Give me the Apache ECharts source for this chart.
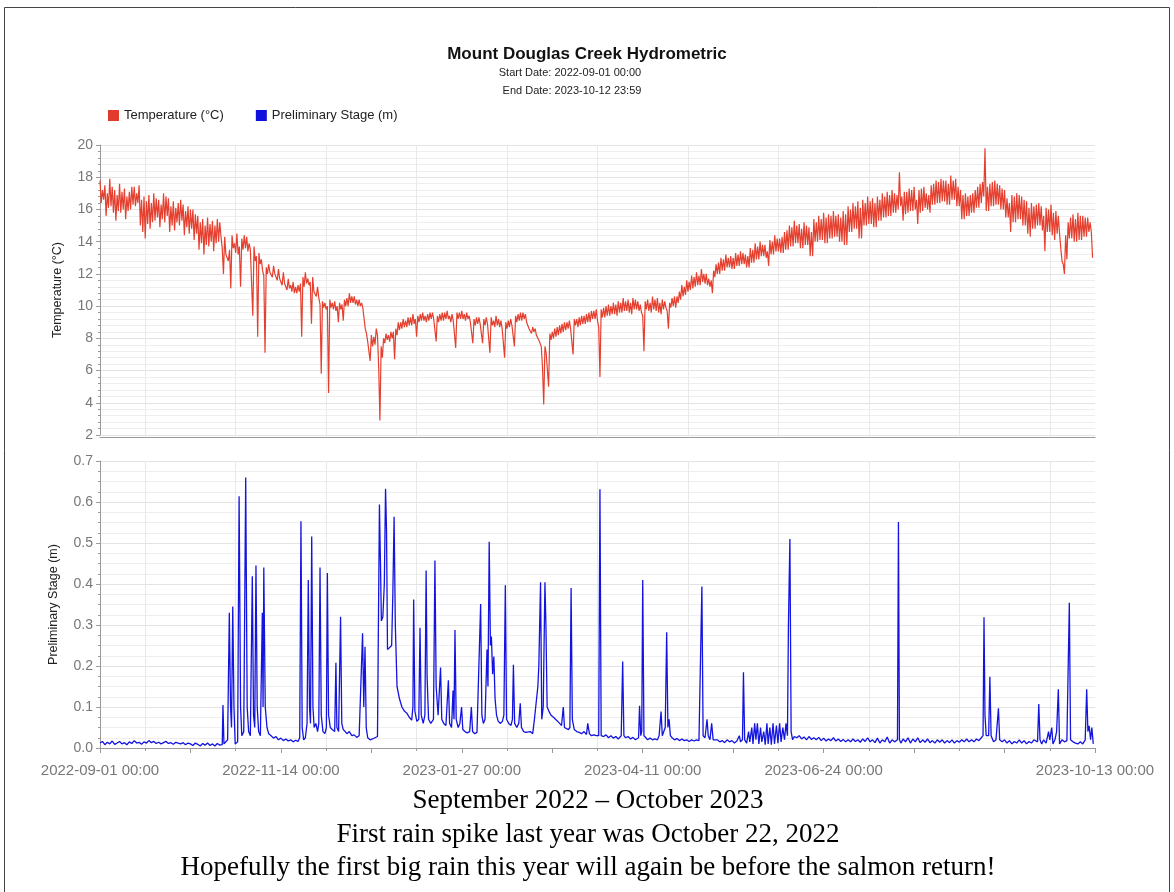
<!DOCTYPE html>
<html>
<head>
<meta charset="utf-8">
<script src="https://cdn.jsdelivr.net/npm/echarts@6/dist/echarts.min.js"></script>
<style>
  html, body { margin: 0; padding: 0; background: #fff; }
  #chart { width: 1174px; height: 892px; }
</style>
</head>
<body>
<div id="chart"></div>
<script>
// days counted from 2022-09-01 00:00
var startDate = Date.UTC(2022, 8, 1);
var labelDays = [0, 74, 148, 222, 296, 407];

// temperature (°C), two readings a day (every 12 h)
var tempC = [
  17.8,16.4, 17.2,16.6, 17.5,15.6, 17.0,16.1, 17.9,16.2, 17.4,15.8, 17.2,15.3, 16.9,15.9, 17.6,15.8, 17.1,16.0,
  17.3,15.4, 16.8,15.9, 17.1,16.0, 17.4,16.3, 17.4,16.2, 17.0,16.4, 17.5,15.0, 16.6,14.6, 16.8,14.2, 16.5,15.1,
  16.9,14.8, 16.4,15.2, 17.0,15.3, 16.7,15.5, 16.6,14.9, 16.3,15.4, 17.0,15.2, 16.8,15.6, 16.7,14.6, 16.2,15.0,
  16.5,14.7, 16.1,15.2, 16.4,15.0, 16.6,15.3, 16.3,14.4, 15.9,14.9, 16.2,14.5, 16.0,14.8, 16.0,14.1, 15.7,14.5,
  15.6,13.5, 15.2,13.9, 15.4,13.2, 15.0,13.8, 15.5,13.7, 15.1,14.0, 15.3,13.4, 15.0,13.9, 15.4,14.0, 15.2,14.3,
  13.6,12.0, 14.3,13.2, 13.3,12.8, 13.5,11.1, 14.4,13.6, 13.9,13.3, 14.5,13.2, 13.7,11.2, 14.2,13.5, 14.4,13.6,
  14.3,13.4, 13.9,13.5, 13.5,9.4, 13.7,12.8, 13.1,8.1, 13.3,12.6, 12.9,12.2, 11.9,7.1, 12.4,12.0, 12.6,12.1,
  12.2,11.8, 12.5,12.0, 11.9,11.6, 12.3,11.7, 11.8,11.3, 12.1,11.4, 11.4,11.0, 11.7,11.1, 11.3,10.9, 11.5,10.8,
  11.2,10.8, 11.3,10.9, 11.4,8.1, 11.8,11.2, 12.1,11.4, 11.7,11.3, 11.5,8.9, 11.8,10.9, 11.0,10.6, 11.2,10.5,
  10.1,5.8, 10.3,9.9, 10.2,9.8, 10.0,4.6, 10.4,9.9, 10.2,9.8, 10.3,9.7, 10.0,9.0, 10.2,9.8, 10.1,9.1,
  10.4,10.0, 10.5,10.0, 10.8,10.2, 10.6,10.2, 10.6,10.1, 10.4,10.0, 10.4,10.0, 10.2,9.9, 9.8,8.6, 8.3,7.8,
  7.8,6.6, 8.2,7.5, 8.1,7.6, 8.6,8.2, 6.2,2.9, 7.5,6.8, 8.0,7.7, 8.3,7.9, 8.2,7.8, 8.4,8.0,
  8.4,6.7, 8.6,8.2, 9.0,8.5, 9.0,8.6, 9.2,8.7, 9.1,8.7, 9.3,8.8, 9.3,8.8, 9.5,8.9, 9.2,8.1,
  9.4,9.0, 9.5,9.1, 9.6,9.1, 9.4,9.0, 9.5,9.1, 9.6,9.2, 9.6,9.2, 9.3,7.8, 9.4,9.0, 9.5,9.1,
  9.6,9.1, 9.6,9.2, 9.7,9.2, 9.4,9.0, 9.5,9.1, 9.1,7.4, 9.6,9.2, 9.6,9.2, 9.7,9.2, 9.5,9.1,
  9.6,9.2, 9.4,9.0, 9.0,7.7, 9.2,8.8, 9.3,8.9, 9.3,8.9, 8.9,7.7, 9.2,8.8, 9.3,8.9, 8.8,7.1,
  9.3,8.8, 9.1,8.7, 9.4,8.8, 9.2,8.7, 9.1,8.6, 8.6,6.8, 9.0,8.6, 9.1,8.7, 9.2,8.8, 8.9,7.5,
  9.4,9.0, 9.5,9.1, 9.6,9.1, 9.6,9.2, 9.5,9.0, 8.9,8.6, 8.7,8.3, 8.7,8.4, 8.6,8.2, 8.2,7.9,
  7.9,7.5, 6.2,3.9, 7.5,7.1, 7.0,5.0, 8.3,7.9, 8.4,8.0, 8.6,8.1, 8.7,8.2, 8.8,8.3, 8.9,8.4,
  9.0,8.5, 9.0,8.6, 9.1,8.6, 8.6,7.0, 9.2,8.8, 9.2,8.7, 9.3,8.8, 9.4,8.9, 9.4,8.9, 9.5,9.0,
  9.6,9.0, 9.7,9.2, 9.7,9.2, 9.8,9.1, 8.7,5.6, 9.8,9.3, 9.9,9.3, 10.0,9.4, 10.1,9.4, 10.0,9.5,
  10.2,9.5, 10.1,9.4, 10.3,9.6, 10.2,9.6, 10.5,9.7, 10.3,9.7, 10.4,9.6, 10.2,9.5, 10.5,9.8, 10.4,9.8,
  10.3,9.7, 10.1,9.6, 9.4,7.2, 10.3,9.8, 10.4,9.7, 10.2,9.6, 10.6,9.8, 10.4,9.7, 10.5,9.6, 10.2,9.5,
  10.4,9.8, 10.3,9.9, 9.7,8.6, 10.2,9.9, 10.5,10.0, 10.6,9.9, 10.6,10.2, 10.9,10.4, 11.3,10.6, 11.2,10.7,
  11.6,10.9, 11.5,11.0, 11.9,11.1, 11.8,11.2, 12.1,11.3, 11.9,11.3, 12.3,11.5, 12.0,11.4, 12.0,11.3, 11.7,11.2,
  11.6,10.8, 12.2,11.8, 12.6,12.0, 12.7,12.0, 13.0,12.2, 12.9,12.2, 13.2,12.4, 13.0,12.4, 13.1,12.3, 13.0,12.3,
  13.3,12.5, 13.2,12.5, 13.4,12.6, 13.3,12.6, 13.2,12.4, 13.1,12.4, 13.6,12.7, 13.5,12.7, 13.9,12.9, 13.7,12.9,
  14.0,13.1, 13.8,13.1, 13.8,13.0, 13.4,12.5, 14.1,13.2, 14.0,13.2, 14.4,13.4, 14.2,13.4, 14.2,13.3, 14.3,13.3,
  14.6,13.5, 14.7,13.5, 15.0,13.7, 14.9,13.7, 15.3,13.9, 15.0,13.9, 15.1,13.6, 14.8,13.6, 15.2,13.8, 15.0,13.8,
  14.9,13.1, 14.6,13.1, 15.4,14.0, 15.2,14.0, 15.6,14.1, 15.4,14.1, 15.8,13.9, 15.5,13.9, 15.7,14.2, 15.6,14.2,
  15.9,14.3, 15.6,14.3, 15.7,14.0, 15.5,14.0, 15.9,13.8, 15.7,13.8, 16.2,14.6, 16.0,14.6, 16.4,14.8, 16.2,14.8,
  16.5,14.2, 16.1,14.2, 16.6,15.0, 16.4,15.0, 16.8,15.1, 16.5,15.1, 16.7,14.9, 16.4,14.9, 16.8,15.3, 16.6,15.3,
  17.0,15.5, 16.8,15.5, 17.1,15.6, 16.9,15.6, 17.2,15.8, 17.0,15.8, 16.9,16.0, 18.3,16.2, 16.8,15.3, 17.1,15.7,
  17.1,15.8, 17.3,15.9, 17.2,15.9, 17.4,16.0, 16.6,15.1, 17.2,15.8, 17.3,15.9, 17.4,16.1, 17.0,16.0, 16.9,15.8,
  17.5,16.3, 17.6,16.3, 17.8,16.4, 17.7,16.4, 17.9,16.5, 17.8,16.5, 17.8,16.3, 17.6,16.3, 18.1,16.6, 17.8,16.6,
  17.9,16.2, 17.4,16.2, 17.2,15.4, 16.9,15.4, 17.0,15.6, 16.8,15.6, 16.9,15.8, 17.0,15.8, 17.2,16.1, 17.4,16.1,
  17.6,16.4, 17.7,16.8, 19.8,15.9, 17.4,15.9, 17.6,16.2, 17.7,16.2, 17.8,16.3, 17.6,16.3, 17.5,16.0, 17.3,16.0,
  17.2,15.5, 16.7,15.5, 16.4,14.6, 16.9,15.2, 16.8,15.2, 17.0,15.4, 16.9,15.4, 16.8,15.0, 16.6,15.0, 16.5,14.5,
  16.1,14.3, 16.4,14.8, 16.2,14.8, 16.3,15.0, 16.4,15.0, 16.2,14.7, 15.6,13.4, 16.1,14.6, 16.0,14.6, 16.3,14.4,
  15.8,14.1, 15.9,14.5, 15.6,14.5, 13.6,12.8, 12.6,12.0, 14.4,12.9, 15.2,14.2, 15.5,14.2, 15.7,14.0, 15.4,14.0,
  15.8,14.1, 15.6,14.1, 15.6,14.3, 15.5,14.3, 15.5,14.6, 15.2,14.6, 13.0
];

// preliminary stage (m) as [day, metres]
var stagePts = [
  [0,0.012],[1,0.016],[2,0.008],[3,0.014],[4,0.010],[5,0.017],[6,0.009],[7,0.012],[8,0.016],[9,0.010],
  [10,0.013],[11,0.008],[12,0.015],[13,0.011],[14,0.018],[15,0.012],[16,0.014],[17,0.009],[18,0.015],[19,0.012],
  [20,0.018],[21,0.013],[22,0.016],[23,0.011],[24,0.014],[25,0.010],[26,0.013],[27,0.016],[28,0.011],[29,0.013],
  [30,0.009],[31,0.014],[32,0.012],[33,0.010],[34,0.013],[35,0.008],[36,0.012],[37,0.010],[38,0.006],[39,0.012],
  [40,0.009],[41,0.005],[42,0.011],[43,0.007],[44,0.012],[45,0.006],[46,0.010],[47,0.005],[48,0.011],[49,0.007],
  [50,0.008],[50.3,0.105],[50.7,0.01],[51.5,0.008],[52.2,0.02],[52.9,0.33],[53.4,0.1],[53.8,0.05],[54.3,0.345],[54.8,0.1],
  [55.3,0.01],[56.3,0.015],[56.9,0.614],[57.5,0.1],[58.0,0.03],[58.8,0.04],[59.6,0.66],[60.2,0.1],[60.8,0.04],[61.5,0.03],
  [62.3,0.419],[62.8,0.08],[63.3,0.05],[63.8,0.445],[64.3,0.1],[64.9,0.04],[65.6,0.03],[66.4,0.33],[66.7,0.1],[67.0,0.44],
  [67.6,0.1],[68.3,0.05],[69,0.035],[70,0.03],[71,0.024],[72,0.028],[73,0.02],[74,0.024],[75,0.018],[76,0.022],
  [77,0.017],[78,0.02],[79,0.015],[80,0.019],[81,0.016],[81.7,0.025],[82.2,0.553],[82.7,0.05],[83.3,0.02],[84,0.025],
  [84.7,0.06],[85.2,0.41],[85.7,0.1],[86.1,0.06],[86.6,0.516],[87.1,0.1],[87.6,0.05],[88.3,0.06],[89.0,0.04],[89.5,0.06],
  [90.0,0.44],[90.5,0.08],[91.2,0.04],[92.0,0.035],[92.6,0.05],[93.0,0.427],[93.5,0.08],[94.2,0.05],[95,0.045],[96,0.04],
  [96.5,0.208],[96.9,0.05],[97.6,0.04],[98.4,0.32],[98.9,0.06],[99.5,0.045],[100.3,0.04],[101,0.035],[102,0.04],[103,0.03],
  [104,0.032],[105,0.026],[106,0.03],[106.8,0.03],[107.4,0.28],[107.9,0.1],[108.4,0.247],[108.9,0.05],[109.5,0.025],[110.5,0.02],
  [111.5,0.022],[112.5,0.025],[113.5,0.028],[114.0,0.03],[114.3,0.594],[114.7,0.46],[115.1,0.31],[115.7,0.32],[116.3,0.4],[116.8,0.632],
  [117.2,0.533],[117.6,0.24],[118.3,0.24],[119.3,0.25],[119.8,0.38],[120.3,0.564],[120.8,0.3],[121.5,0.15],[122.5,0.12],[123.5,0.1],
  [124.5,0.09],[125.5,0.085],[126.5,0.075],[127.5,0.068],[128.0,0.1],[128.3,0.362],[128.8,0.09],[129.6,0.065],[130.4,0.07],[130.9,0.293],
  [131.4,0.08],[132.2,0.06],[132.9,0.08],[133.4,0.433],[133.8,0.174],[134.4,0.07],[135.3,0.06],[136.4,0.07],[137.0,0.457],[137.5,0.15],
  [138.3,0.08],[139.3,0.196],[139.8,0.07],[140.6,0.06],[141.5,0.055],[142.5,0.165],[143.0,0.06],[143.8,0.05],[144.4,0.14],[144.8,0.07],
  [145.2,0.288],[145.7,0.07],[146.5,0.05],[147.2,0.06],[147.9,0.1],[148.4,0.045],[149.3,0.04],[150.2,0.037],[151.2,0.04],[151.9,0.1],
  [152.4,0.04],[153.3,0.035],[154.2,0.038],[155.0,0.04],[155.7,0.351],[156.2,0.08],[156.8,0.06],[157.5,0.07],[158.3,0.24],[158.7,0.15],
  [159.2,0.503],[159.7,0.25],[160.1,0.272],[160.6,0.18],[161.1,0.223],[161.6,0.12],[162.2,0.08],[162.9,0.065],[163.8,0.06],[164.6,0.065],
  [165.2,0.08],[165.8,0.397],[166.3,0.07],[167.2,0.06],[168.1,0.055],[168.7,0.07],[169.1,0.203],[169.6,0.06],[170.5,0.05],[171.3,0.06],
  [171.9,0.109],[172.4,0.05],[173.3,0.04],[174.2,0.038],[175,0.035],[176,0.04],[177,0.035],[177.7,0.07],[178.5,0.07],[179.1,0.15],
  [179.5,0.2],[180.2,0.404],[180.7,0.07],[181.3,0.1],[182.0,0.404],[182.4,0.3],[182.9,0.1],[183.6,0.09],[184.5,0.08],[185.5,0.075],
  [186.3,0.07],[187.2,0.065],[188.0,0.06],[188.8,0.055],[189.5,0.1],[190.0,0.05],[190.8,0.05],[191.6,0.045],[192.2,0.05],[192.7,0.39],
  [193.2,0.07],[194,0.045],[195,0.04],[196,0.038],[197,0.035],[198,0.04],[199,0.033],[199.5,0.06],[200.2,0.035],[201,0.03],
  [202,0.032],[203,0.03],[204.0,0.03],[204.5,0.631],[205.0,0.03],[206,0.028],[207,0.032],[208,0.025],[209,0.03],[210,0.024],
  [211,0.028],[212,0.022],[213.2,0.03],[213.8,0.211],[214.3,0.03],[215,0.025],[216,0.028],[217,0.022],[218,0.026],[219,0.02],
  [220.3,0.025],[220.7,0.103],[221.2,0.03],[221.6,0.04],[222.0,0.41],[222.5,0.03],[223.3,0.025],[224,0.02],[225,0.024],[226,0.02],
  [227,0.022],[228,0.02],[228.7,0.03],[229.5,0.089],[230,0.03],[230.6,0.03],[231.2,0.05],[231.8,0.282],[232.3,0.05],[232.8,0.07],
  [233.3,0.03],[234,0.025],[235,0.02],[236,0.023],[237,0.018],[238,0.022],[239,0.018],[240,0.02],[241,0.016],[242,0.02],
  [243,0.017],[244,0.02],[245,0.018],[245.7,0.02],[246.2,0.394],[246.7,0.03],[247.5,0.025],[248.3,0.07],[248.8,0.03],[249.5,0.02],
  [250.2,0.06],[250.8,0.02],[251.5,0.018],[252.5,0.02],[253.5,0.015],[254.5,0.018],[255.5,0.013],[256.5,0.02],[257.5,0.015],[258.5,0.018],
  [259.5,0.012],[260.5,0.017],[261.5,0.03],[262,0.015],[262.8,0.02],[263.2,0.185],[263.7,0.02],[264.5,0.012],[265.3,0.04],[265.8,0.015],
  [266.6,0.05],[267.1,0.01],[267.8,0.06],[268.3,0.02],[268.9,0.06],[269.5,0.01],[270.2,0.05],[270.7,0.015],[271.5,0.04],[272.1,0.008],
  [272.8,0.06],[273.3,0.01],[274,0.05],[274.6,0.008],[275.3,0.06],[275.9,0.01],[276.7,0.055],[277.3,0.012],[278,0.06],[278.6,0.015],
  [279.3,0.05],[280,0.02],[280.6,0.06],[281.2,0.03],[281.6,0.3],[282.2,0.51],[282.7,0.04],[283.3,0.02],[284,0.028],[285,0.025],
  [286,0.03],[287,0.022],[288,0.027],[289,0.02],[290,0.028],[291,0.021],[292,0.025],[293,0.02],[294,0.026],[295,0.018],
  [296,0.024],[297,0.017],[298,0.022],[299,0.018],[300,0.025],[301,0.017],[302,0.022],[303,0.016],[304,0.021],[305,0.015],
  [306,0.02],[307,0.015],[308,0.022],[309,0.016],[310,0.02],[311,0.014],[312,0.022],[313,0.016],[314,0.025],[315,0.015],
  [316,0.02],[317,0.013],[318,0.024],[319,0.012],[320,0.02],[321,0.015],[322,0.027],[323,0.012],[324,0.02],[325,0.015],
  [326.2,0.02],[326.6,0.551],[327.0,0.02],[327.6,0.012],[328.5,0.022],[329.5,0.015],[330.5,0.025],[331.5,0.012],[332.5,0.022],[333.5,0.015],
  [334.5,0.025],[335.5,0.013],[336.5,0.02],[337.5,0.014],[338.5,0.022],[339.5,0.013],[340.5,0.018],[341.5,0.012],[342.5,0.02],[343.5,0.014],
  [344.5,0.02],[345.5,0.012],[346.5,0.018],[347.5,0.013],[348.5,0.02],[349.5,0.012],[350.5,0.018],[351.5,0.014],[352.5,0.02],[353.5,0.015],
  [354.5,0.022],[355.5,0.015],[356.5,0.02],[357.5,0.015],[358.5,0.022],[359.5,0.018],[360.5,0.025],[361.2,0.03],[361.6,0.319],[362.0,0.08],
  [362.5,0.03],[363.5,0.03],[364.0,0.174],[364.5,0.03],[365.5,0.015],[366.5,0.02],[367.1,0.02],[367.5,0.097],[368.0,0.02],[369,0.015],
  [370,0.02],[371,0.012],[372,0.018],[373,0.01],[374,0.016],[375,0.012],[376,0.02],[377,0.012],[378,0.018],[379,0.01],
  [380,0.016],[381,0.012],[382,0.02],[383.5,0.015],[384,0.107],[384.5,0.02],[385.2,0.01],[386,0.02],[387,0.012],[388,0.04],
  [388.5,0.02],[389.3,0.05],[389.8,0.01],[390.6,0.02],[391.3,0.04],[392.0,0.143],[392.5,0.01],[393.5,0.02],[394.5,0.015],[395.5,0.018],
  [396.1,0.02],[396.5,0.354],[397,0.02],[398,0.015],[399,0.012],[400,0.01],[401,0.015],[402,0.01],[403,0.02],[403.6,0.143],
  [404.1,0.04],[404.6,0.054],[405.2,0.02],[405.7,0.05],[406.3,0.01]
];

var captionLines = [
  "September 2022 \u2013 October 2023",
  "First rain spike last year was October 22, 2022",
  "Hopefully the first big rain this year will again be before the salmon return!"
];

function pad(n) { return n < 10 ? "0" + n : "" + n; }
function dayLabel(v) {
  var d = Math.round(v);
  if (labelDays.indexOf(d) < 0) return "";
  var t = new Date(startDate + d * 86400000);
  return t.getUTCFullYear() + "-" + pad(t.getUTCMonth() + 1) + "-" + pad(t.getUTCDate()) + " 00:00";
}

var sans = '"Liberation Sans", Arial, Helvetica, sans-serif';
var axisGrey = "#9a9a9a";

var myChart = echarts.init(document.getElementById("chart"), null, { renderer: "canvas" });

var xCommon = {
  type: "value",
  min: 0,
  max: 407,
  interval: 37,
  axisLine: { lineStyle: { color: axisGrey } },
  splitLine: { show: false },
  minorSplitLine: { show: true, lineStyle: { color: "#e9e9e9" } }
};

var option = {
  animation: false,
  backgroundColor: "#fff",
  textStyle: { fontFamily: sans },
  title: {
    text: "Mount Douglas Creek Hydrometric",
    left: "center",
    top: 41,
    textStyle: { fontSize: 17, fontWeight: "bold", color: "#111", fontFamily: sans }
  },
  legend: {
    left: 103,
    top: 104,
    icon: "rect",
    itemWidth: 11,
    itemHeight: 11,
    itemGap: 32,
    textStyle: { fontSize: 13, color: "#222" },
    data: ["Temperature (\u00B0C)", "Preliminary Stage (m)"]
  },
  grid: [
    { left: 100, right: 79, top: 145, height: 290 },
    { left: 100, right: 79, top: 461, height: 287 }
  ],
  xAxis: [
    Object.assign({}, xCommon, {
      gridIndex: 0,
      offset: 2,
      axisTick: { show: false },
      minorTick: { show: false, splitNumber: 2 },
      axisLabel: { show: false }
    }),
    Object.assign({}, xCommon, {
      gridIndex: 1,
      offset: 3,
      axisTick: { show: true, length: 5, lineStyle: { color: axisGrey } },
      minorTick: { show: true, splitNumber: 2, length: 3, lineStyle: { color: axisGrey } },
      axisLabel: {
        show: true,
        margin: 12,
        fontSize: 15,
        color: "#777",
        showMaxLabel: true,
        formatter: dayLabel
      }
    })
  ],
  yAxis: [
    {
      type: "value",
      gridIndex: 0,
      min: 2,
      max: 20,
      interval: 2,
      name: "Temperature (\u00B0C)",
      nameLocation: "middle",
      nameGap: 36,
      nameTextStyle: { fontSize: 12.5, color: "#222" },
      axisLine: { show: true, lineStyle: { color: axisGrey } },
      axisTick: { show: true, length: 4, lineStyle: { color: axisGrey } },
      minorTick: { show: true, splitNumber: 5, length: 2, lineStyle: { color: axisGrey } },
      axisLabel: { fontSize: 14, color: "#777", margin: 7 },
      splitLine: { show: true, lineStyle: { color: "#e3e3e3" } },
      minorSplitLine: { show: true, lineStyle: { color: "#eeeeee" } }
    },
    {
      type: "value",
      gridIndex: 1,
      min: 0,
      max: 0.7,
      interval: 0.1,
      name: "Preliminary Stage (m)",
      nameLocation: "middle",
      nameGap: 40,
      nameTextStyle: { fontSize: 12.5, color: "#222" },
      axisLine: { show: true, lineStyle: { color: axisGrey } },
      axisTick: { show: true, length: 4, lineStyle: { color: axisGrey } },
      minorTick: { show: true, splitNumber: 4, length: 2, lineStyle: { color: axisGrey } },
      axisLabel: { fontSize: 14, color: "#777", margin: 7, formatter: function (v) { return v.toFixed(1); } },
      splitLine: { show: true, lineStyle: { color: "#e3e3e3" } },
      minorSplitLine: { show: true, lineStyle: { color: "#eeeeee" } }
    }
  ],
  series: [
    {
      name: "Temperature (\u00B0C)",
      type: "line",
      xAxisIndex: 0,
      yAxisIndex: 0,
      showSymbol: false,
      symbol: "none",
      color: "#e23b2e",
      lineStyle: { width: 1.2, color: "#e5402f" },
      data: tempC.map(function (v, i) { return [i / 2, v]; })
    },
    {
      name: "Preliminary Stage (m)",
      type: "line",
      xAxisIndex: 1,
      yAxisIndex: 1,
      showSymbol: false,
      symbol: "none",
      color: "#1111dd",
      lineStyle: { width: 1.3, color: "#1414e0" },
      data: stagePts
    }
  ],
  graphic: [
    {
      type: "rect",
      shape: { x: 4.5, y: 7.5, width: 1165, height: 900 },
      style: { fill: "none", stroke: "#444", lineWidth: 1 },
      silent: true
    },
    {
      type: "text",
      x: 570,
      y: 73,
      style: { text: "Start Date: 2022-09-01 00:00", font: '11px ' + sans, fill: "#222", align: "center", verticalAlign: "middle" }
    },
    {
      type: "text",
      x: 572,
      y: 91,
      style: { text: "End Date: 2023-10-12 23:59", font: '11px ' + sans, fill: "#222", align: "center", verticalAlign: "middle" }
    }
  ].concat(captionLines.map(function (txt, i) {
    return {
      type: "text",
      x: 588,
      y: [801, 835, 868][i],
      style: { text: txt, font: '27px "Liberation Serif", "Times New Roman", serif', fill: "#000", align: "center", verticalAlign: "middle" }
    };
  }))
};

myChart.setOption(option);
window.onresize = function () { myChart.resize(); };
</script>
</body>
</html>
